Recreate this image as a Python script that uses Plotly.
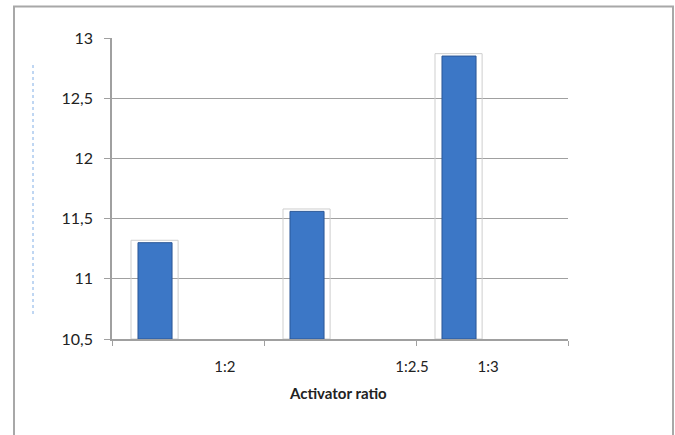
import plotly.graph_objects as go

# Activator ratio categories and measured values
categories = ["1:2", "1:2.5", "1:3"]
values = [11.30, 11.56, 12.85]

# category slot centres on the numeric x axis, and where the tick labels sit
slot_centres = [0.5, 1.5, 2.5]
label_positions = [0.743, 1.974, 2.474]
y_ticks = [10.5, 11, 11.5, 12, 12.5, 13]
y_base = 10.5

W, H = 675, 435
L, R, T, B = 112, 107, 38, 96
pw, ph = W - L - R, H - T - B

def px_x(px):
    return (px - L) / pw

def px_y(py):
    return (H - B - py) / ph

heights = [v - y_base for v in values]

fig = go.Figure()

# light outline box behind each bar
fig.add_trace(go.Bar(
    x=slot_centres, y=[h + 0.02 for h in heights], base=y_base,
    width=0.31, offset=-0.375,
    marker=dict(color="rgba(255,255,255,0)", line=dict(color="#cfcfcf", width=1)),
    hoverinfo="skip", showlegend=False,
))

# the bars
fig.add_trace(go.Bar(
    x=slot_centres, y=heights, base=y_base,
    width=0.224, offset=-0.329,
    marker=dict(color="#3c77c6", line=dict(color="#2b5796", width=1)),
    showlegend=False,
))

# invisible trace carrying the category labels axis
fig.add_trace(go.Scatter(x=label_positions, y=[y_base] * 3, xaxis="x2",
                         mode="markers", marker=dict(opacity=0),
                         hoverinfo="skip", showlegend=False))

font = "Lato, 'Liberation Sans', sans-serif"
fig.update_layout(
    width=W, height=H,
    margin=dict(l=L, r=R, t=T, b=B, pad=0),
    paper_bgcolor="white", plot_bgcolor="white",
    separators=", ",
    barmode="overlay",
    font=dict(family=font, size=14, color="#222"),
    xaxis=dict(range=[0, 3], tickvals=[0, 1, 2, 3], showticklabels=False,
               ticks="outside", ticklen=5, tickcolor="#a0a0a0",
               showline=True, linecolor="#a0a0a0", linewidth=1.5,
               showgrid=False, zeroline=False, fixedrange=True),
    xaxis2=dict(range=[0, 3], overlaying="x", anchor="y", side="bottom",
                tickvals=label_positions, ticktext=categories,
                ticks="outside", ticklen=14, tickcolor="rgba(0,0,0,0)",
                showline=False, showgrid=False, zeroline=False,
                tickfont=dict(size=15, color="#222")),
    yaxis=dict(range=[10.5, 13], tickvals=y_ticks,
               ticks="outside", ticklen=6, tickcolor="#a0a0a0",
               showline=True, linecolor="#a0a0a0", linewidth=1.5,
               showgrid=True, gridcolor="#a0a0a0", gridwidth=1.3,
               zeroline=False, ticklabelstandoff=8,
               tickfont=dict(size=16, color="#222")),
    annotations=[dict(text="<b>Activator ratio</b>", xref="paper", yref="paper",
                      x=px_x(338), y=px_y(393), xanchor="center", yanchor="middle",
                      showarrow=False, font=dict(size=15, color="#222"))],
    shapes=[
        dict(type="rect", xref="paper", yref="paper",
             x0=px_x(14), x1=px_x(673), y0=px_y(460), y1=px_y(6.5),
             line=dict(color="#a8a8a8", width=2), layer="below"),
        dict(type="line", xref="paper", yref="paper",
             x0=px_x(33), x1=px_x(33), y0=px_y(314), y1=px_y(62),
             line=dict(color="#80aee6", width=1, dash="dot")),
    ],
)

fig.write_html("out.html")
